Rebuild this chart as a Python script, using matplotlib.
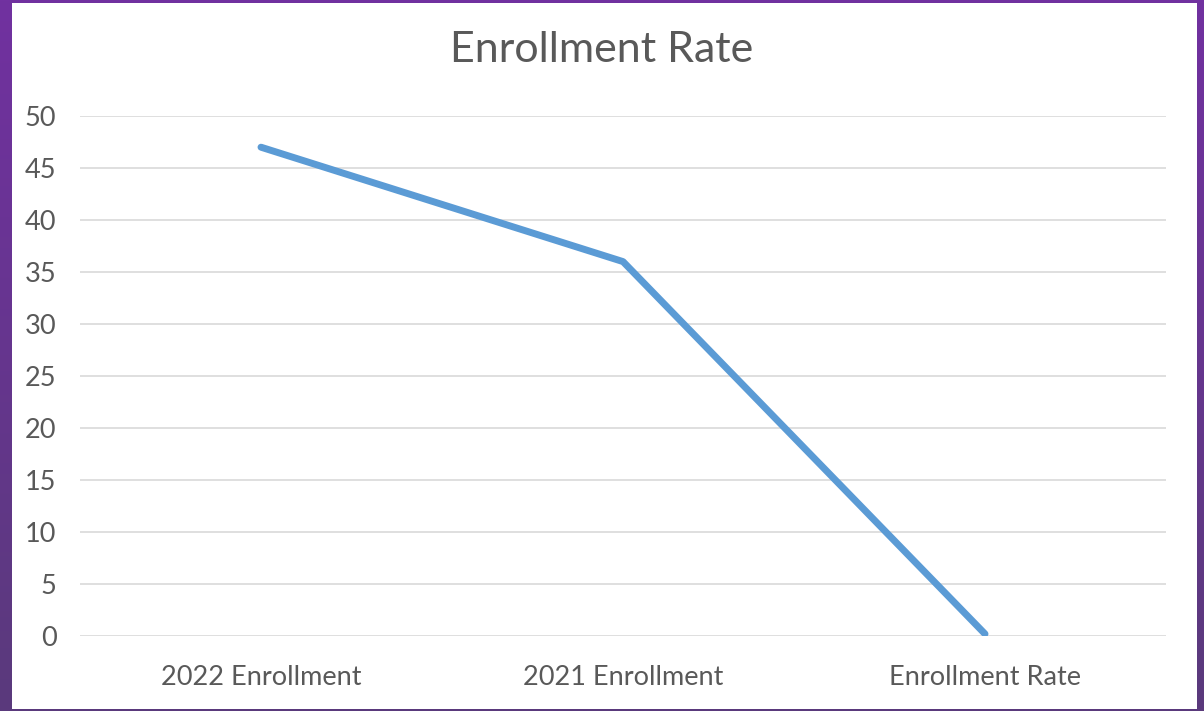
import numpy as np
import matplotlib.pyplot as plt
from matplotlib.colors import LinearSegmentedColormap
from matplotlib.patches import Rectangle

# data
categories = ["2022 Enrollment", "2021 Enrollment", "Enrollment Rate"]
values = [47, 36, 0.2]
yticks = [0, 5, 10, 15, 20, 25, 30, 35, 40, 45, 50]

plt.rcParams['font.family'] = ['Lato', 'DejaVu Sans']
txt = "#595959"

fig = plt.figure(figsize=(12.04, 7.11), dpi=100)

# purple frame with a slight vertical gradient
bg = fig.add_axes([0, 0, 1, 1])
cmap = LinearSegmentedColormap.from_list("frame", ["#7131a0", "#5a3a7c"])
grad = np.linspace(0, 1, 256).reshape(-1, 1)
bg.imshow(grad, aspect="auto", cmap=cmap, extent=[0, 1, 0, 1])
bg.add_patch(Rectangle((12 / 1204, 2 / 711), (1197 - 12) / 1204, (708 - 2) / 711,
                       facecolor="white", edgecolor="none"))
bg.set_xlim(0, 1)
bg.set_ylim(0, 1)
bg.axis("off")

ax = fig.add_axes([80 / 1204, 1 - 636 / 711, (1166 - 80) / 1204, (636 - 116) / 711])
ax.set_facecolor("none")
x = np.arange(len(categories))
ax.plot(x, values, color="#5b9bd5", linewidth=5, solid_capstyle="round",
        solid_joinstyle="round", zorder=3)

ax.set_xlim(-0.5, 2.5)
ax.set_ylim(0, 50)
ax.set_yticks(yticks)
ax.set_xticks(x)
ax.set_xticklabels(categories)
ax.grid(axis="y", color="#d9d9d9", linewidth=1.2)
ax.set_axisbelow(True)
for s in ax.spines.values():
    s.set_visible(False)
ax.tick_params(axis="both", length=0, labelsize=19.5, colors=txt)
ax.tick_params(axis="y", pad=17)
ax.tick_params(axis="x", pad=21)

fig.text(0.5, 1 - 50 / 711, "Enrollment Rate", ha="center", va="center",
         fontsize=31, color=txt)

fig.savefig("out.png", dpi=100)
